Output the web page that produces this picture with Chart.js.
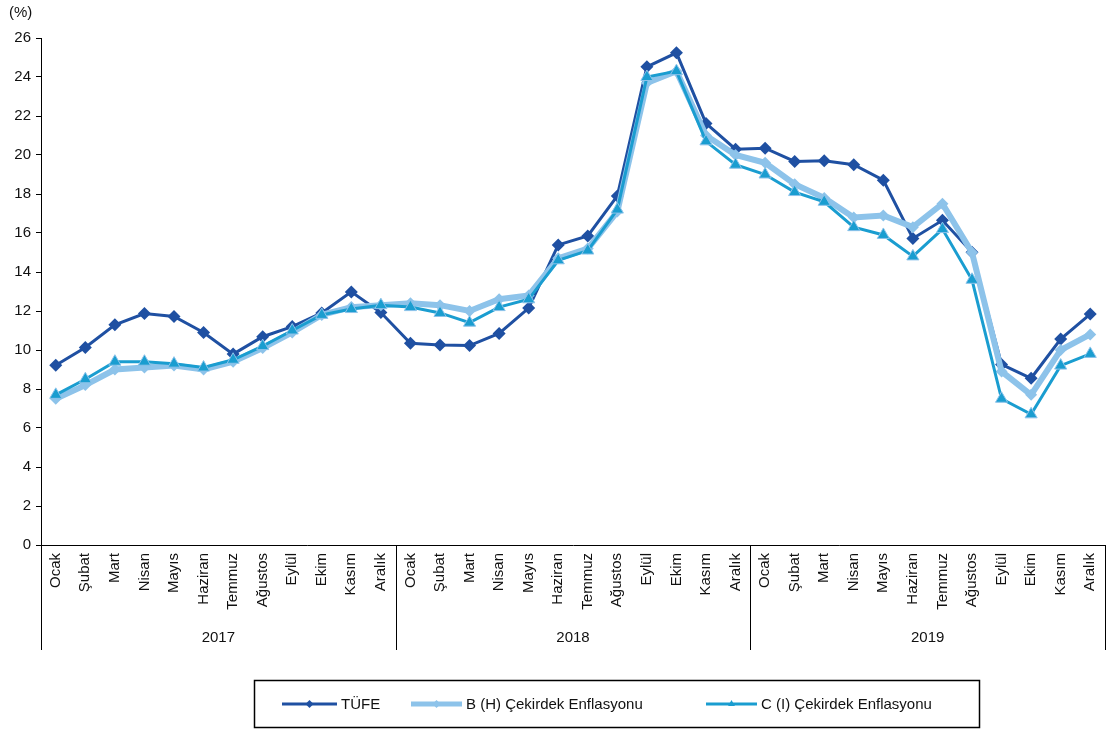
<!DOCTYPE html>
<html>
<head>
<meta charset="utf-8">
<script src="https://cdn.jsdelivr.net/npm/chart.js@4"></script>
<style>
  html, body { margin: 0; padding: 0; background: #fff; }
  #wrap { width: 1108px; height: 731px; position: relative; }
</style>
</head>
<body>
<div id="wrap"><canvas id="inflationChart" width="1108" height="731"></canvas></div>
<script>
// aylar ve yıllar
const months = ['Ocak', 'Şubat', 'Mart', 'Nisan', 'Mayıs', 'Haziran', 'Temmuz', 'Ağustos', 'Eylül', 'Ekim', 'Kasım', 'Aralık'];
const years = ['2017', '2018', '2019'];
const yTicks = [0, 2, 4, 6, 8, 10, 12, 14, 16, 18, 20, 22, 24, 26];

// yıllık değişim (%)
const tufe = [9.22, 10.13, 11.29, 11.87, 11.72, 10.90, 9.79, 10.68, 11.20, 11.90, 12.98, 11.92,
              10.35, 10.26, 10.23, 10.85, 12.15, 15.39, 15.85, 17.90, 24.52, 25.24, 21.62, 20.30,
              20.35, 19.67, 19.71, 19.50, 18.71, 15.72, 16.65, 15.01, 9.26, 8.55, 10.56, 11.84];
const coreB = [7.5, 8.2, 9.0, 9.1, 9.2, 9.0, 9.4, 10.1, 10.9, 11.8, 12.2, 12.3,
               12.4, 12.3, 12.0, 12.6, 12.8, 14.7, 15.2, 17.1, 23.7, 24.3, 21.0, 20.0,
               19.6, 18.5, 17.8, 16.8, 16.9, 16.3, 17.5, 15.0, 8.9, 7.7, 10.0, 10.8];
const coreC = [7.7, 8.5, 9.4, 9.4, 9.3, 9.1, 9.5, 10.2, 11.0, 11.8, 12.1, 12.3,
               12.2, 11.9, 11.4, 12.2, 12.6, 14.6, 15.1, 17.2, 24.0, 24.3, 20.7, 19.5,
               19.0, 18.1, 17.6, 16.3, 15.9, 14.8, 16.2, 13.6, 7.5, 6.7, 9.2, 9.8];

const labels = [];
years.forEach(function () { months.forEach(function (m) { labels.push(m); }); });

const FONT = "'Liberation Sans', Arial, sans-serif";
const cTufe = '#1F50A2', cB = '#8DC3EA', cC = '#1A9DD0';

const legendItems = [
    { text: 'TÜFE', color: cTufe, width: 3, style: 'rectRot', r: 4, x0: 282, x1: 337 },
    { text: 'B (H) Çekirdek Enflasyonu', color: cB, width: 5, style: 'rectRot', r: 4, x0: 411, x1: 462 },
    { text: 'C (I) Çekirdek Enflasyonu', color: cC, width: 3, style: 'triangle', r: 4, x0: 706, x1: 757 }
];

// yıl satırı, (%) başlığı ve lejant
const extras = {
    id: 'extras',
    afterDraw: function (chart) {
        const ctx = chart.ctx, x = chart.scales.x, area = chart.chartArea;
        const bottom = area.bottom + 105;
        ctx.save();
        ctx.strokeStyle = '#000';
        ctx.lineWidth = 1;
        ctx.fillStyle = '#111';
        ctx.font = '15px ' + FONT;
        ctx.textAlign = 'center';
        ctx.textBaseline = 'middle';
        const edges = [area.left];
        for (let i = 1; i < years.length; i++) {
            edges.push((x.getPixelForValue(i * 12 - 1) + x.getPixelForValue(i * 12)) / 2);
        }
        edges.push(area.right);
        edges.forEach(function (e) {
            const px = Math.round(e) + 0.5;
            ctx.beginPath();
            ctx.moveTo(px, area.bottom);
            ctx.lineTo(px, bottom);
            ctx.stroke();
        });
        years.forEach(function (y, i) {
            const cx = (x.getPixelForValue(i * 12) + x.getPixelForValue(i * 12 + 11)) / 2;
            ctx.fillText(y, cx, area.bottom + 93);
        });

        ctx.textAlign = 'left';
        ctx.fillText('(%)', 9, 13);

        // lejant
        ctx.lineWidth = 1.5;
        ctx.strokeRect(254.5, 680.5, 725, 47);
        ctx.font = '15px ' + FONT;
        legendItems.forEach(function (it) {
            const ly = 704;
            ctx.strokeStyle = it.color;
            ctx.lineWidth = it.width;
            ctx.beginPath();
            ctx.moveTo(it.x0, ly);
            ctx.lineTo(it.x1, ly);
            ctx.stroke();
            ctx.fillStyle = it.color;
            Chart.helpers.drawPoint(ctx, { pointStyle: it.style, radius: it.r, borderWidth: 0 }, (it.x0 + it.x1) / 2, ly);
            ctx.fillStyle = '#111';
            ctx.fillText(it.text, it.x1 + 4, ly + 1);
        });
        ctx.restore();
    }
};

const ctx = document.getElementById('inflationChart').getContext('2d');
const inflationChart = new Chart(ctx, {
    type: 'line',
    data: {
        labels: labels,
        datasets: [{
            label: 'TÜFE',
            data: tufe,
            borderColor: cTufe,
            backgroundColor: cTufe,
            borderWidth: 3,
            pointStyle: 'rectRot',
            pointRadius: 6.5,
            pointBorderWidth: 0,
            order: 2
        }, {
            label: 'B (H) Çekirdek Enflasyonu',
            data: coreB,
            borderColor: cB,
            backgroundColor: cB,
            borderWidth: 6,
            pointStyle: 'rectRot',
            pointRadius: 6,
            pointBorderWidth: 0,
            order: 1
        }, {
            label: 'C (I) Çekirdek Enflasyonu',
            data: coreC,
            borderColor: cC,
            backgroundColor: cC,
            borderWidth: 3,
            pointStyle: 'triangle',
            pointRadius: 7,
            pointBorderColor: cB,
            pointBorderWidth: 1,
            order: 0
        }]
    },
    options: {
        responsive: false,
        animation: false,
        devicePixelRatio: 1,
        layout: { autoPadding: false, padding: { left: 0, top: 38, right: 3, bottom: 81 } },
        plugins: {
            legend: { display: false },
            tooltip: { enabled: false }
        },
        scales: {
            x: {
                offset: true,
                grid: { display: true, drawOnChartArea: false, drawTicks: false, offset: true },
                border: { display: true, color: '#000', width: 1 },
                ticks: {
                    autoSkip: false,
                    maxRotation: 90,
                    minRotation: 90,
                    padding: 8,
                    color: '#111',
                    font: { family: FONT, size: 15 }
                },
                afterFit: function (s) { s.height = 105; s.paddingLeft = 0; s.paddingRight = 0; }
            },
            y: {
                min: 0,
                max: 26,
                afterBuildTicks: function (s) { s.ticks = yTicks.map(function (v) { return { value: v }; }); },
                grid: { drawOnChartArea: false, drawTicks: true, tickLength: 5, color: '#000' },
                border: { display: true, color: '#000', width: 1 },
                ticks: {
                    padding: 5,
                    color: '#111',
                    font: { family: FONT, size: 15 }
                },
                afterFit: function (s) { s.width = 41; s.paddingTop = 0; s.paddingBottom = 0; }
            }
        }
    },
    plugins: [extras]
});
</script>
</body>
</html>
